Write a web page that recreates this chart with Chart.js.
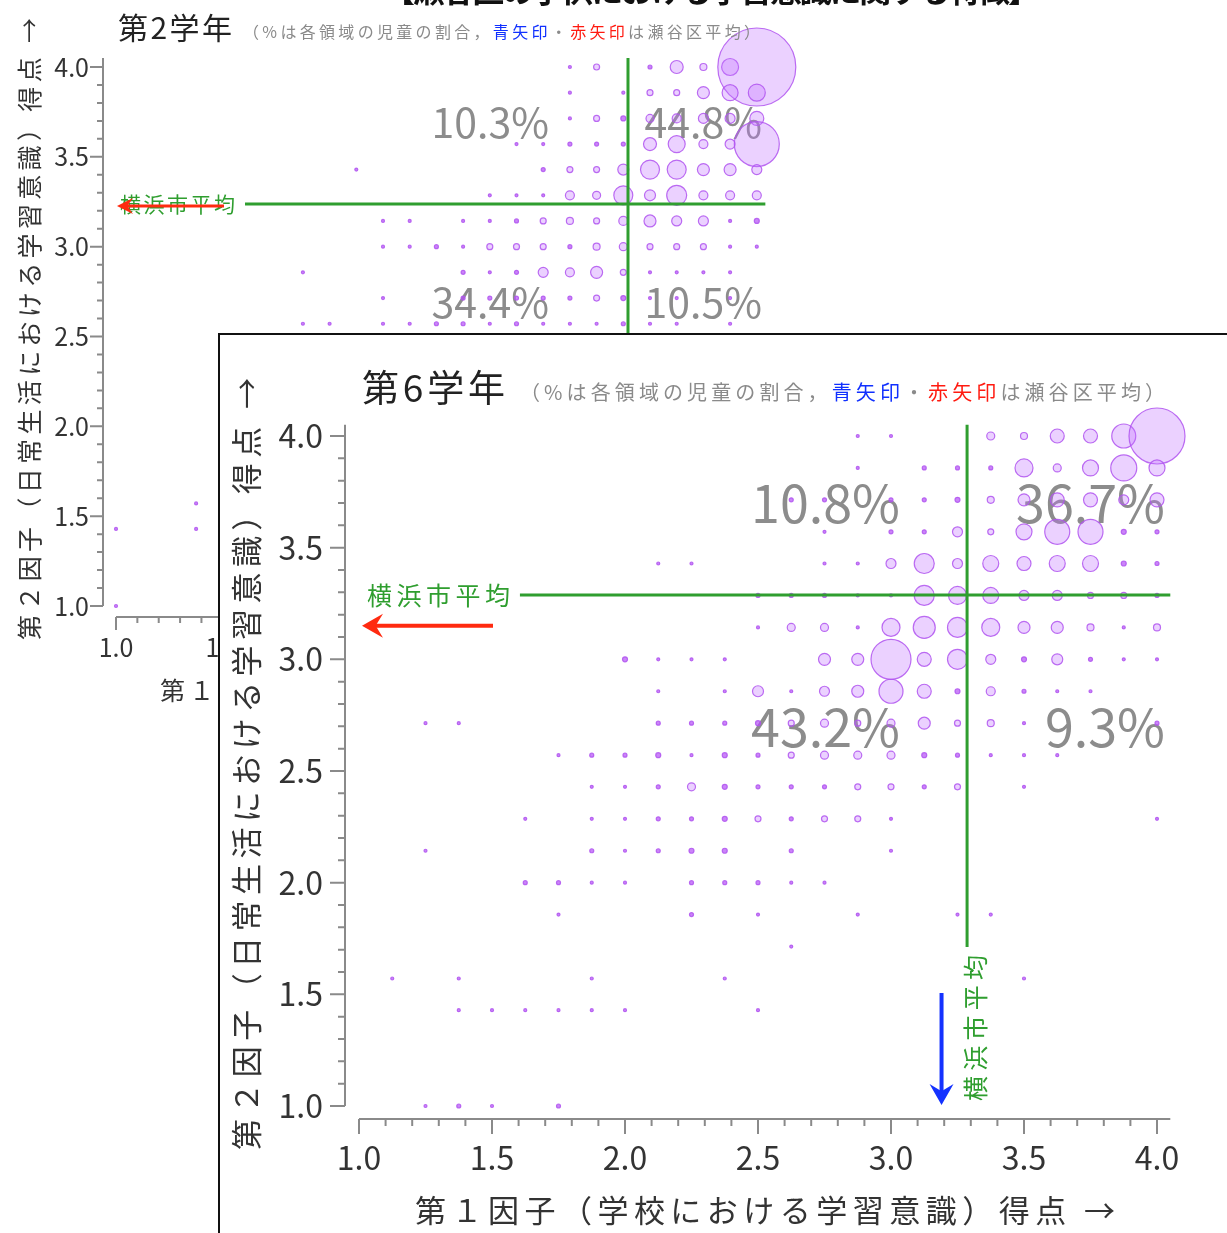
<!DOCTYPE html>
<html lang="ja">
<head>
<meta charset="utf-8">
<script src="https://cdn.jsdelivr.net/npm/chart.js@4.4.0/dist/chart.umd.min.js"></script>
<style>
  html, body { margin: 0; padding: 0; background: #fff; overflow: hidden; width: 1227px; height: 1233px; }
  #wrap { position: relative; width: 1227px; height: 1233px; overflow: hidden; }
  #wrap canvas { position: absolute; left: 0; top: 0; }
  #box { position: absolute; left: 218px; top: 333px; width: 1100px; height: 1000px; background: #fff; border: 2px solid #111; box-sizing: border-box; }
</style>
</head>
<body>
<div id="wrap">
  <canvas id="grade2Chart" width="1227" height="1233"></canvas>
  <div id="box"></div>
  <canvas id="grade6Chart" width="1227" height="1233"></canvas>
</div>
<script>
// score grid (factor 1: 8 items -> 1/8 steps, factor 2: 7 items -> 1/7 steps)
const factor1Scores = [1.000, 1.125, 1.250, 1.375, 1.500, 1.625, 1.750, 1.875, 2.000, 2.125, 2.250, 2.375, 2.500,
  2.625, 2.750, 2.875, 3.000, 3.125, 3.250, 3.375, 3.500, 3.625, 3.750, 3.875, 4.000];
const factor2Scores = [4.000, 3.857, 3.714, 3.571, 3.429, 3.286, 3.143, 3.000, 2.857, 2.714, 2.571,
  2.429, 2.286, 2.143, 2.000, 1.857, 1.714, 1.571, 1.429, 1.286, 1.143, 1.000];

const axisTicks = ['1.0', '1.5', '2.0', '2.5', '3.0', '3.5', '4.0'];

// bubble radius per cell, rows = factor2Scores, cols = factor1Scores (grade 6)
const bubbles6 = [
  [0,0,0,0,0, 0,0,0,0,0, 0,0,0,0,0, 1.5,1.5,0,0,4, 3.5,7,7,12,28],
  [0,0,0,0,0, 0,0,0,0,0, 0,0,0,0,0, 1.5,0,2,2,2, 9,4,8,13,8],
  [0,0,0,0,0, 0,0,0,0,0, 0,0,0,2,2, 0,2,2,2.5,3.5, 6,7,7,5,7],
  [0,0,0,0,0, 0,0,0,0,0, 0,0,0,0,1.5, 0,2,2,5,3, 8,12.5,12.5,2.5,2],
  [0,0,0,0,0, 0,0,0,0,1.5, 1.5,0,0,0,1.5, 1.5,5,10,5,8, 7,8,8,2.5,2],
  [0,0,0,0,0, 0,0,0,0,0, 0,0,2,2,2, 1.5,1.5,10,9,8, 5,5,3,3,2],
  [0,0,0,0,0, 0,0,0,0,0, 0,0,1.5,4,4, 1.5,9,11,10,9, 6,6,3.5,1.5,3.5],
  [0,0,0,0,0, 0,0,0,2.5,1.5, 1.5,1.5,0,0,6, 6,20,7,10,5, 2.5,5.5,2,1.5,1.5],
  [0,0,0,0,0, 0,0,0,0,1.5, 0,1.5,5.5,1.5,5, 6,12,7,2.5,4.5, 2,1.5,1.5,0,0],
  [0,0,1.5,1.5,0, 0,0,0,0,2, 2,2,2.5,3,4, 3,4,6,3,3.5, 1.5,0,0,0,2],
  [0,0,0,0,0, 0,1.5,2,2,2.5, 1.5,2.5,2,3,4, 4,4,2.5,2,1.5, 1.5,1.5,0,0,0],
  [0,0,0,0,0, 0,0,1.5,1.5,2, 4,2.5,2,2,2, 3,3,2,3,0, 1.5,0,0,0,0],
  [0,0,0,0,0, 1.5,0,1.5,1.5,2, 2,2.5,3,2,3, 3,1.5,0,0,0, 0,0,0,0,1.5],
  [0,0,1.5,0,0, 0,0,2,1.5,2, 2.5,2.5,0,2,0, 0,1.5,0,0,0, 0,0,0,0,0],
  [0,0,0,0,0, 2,2,1.5,1.5,0, 2,2,2,1.5,1.5, 0,0,0,0,0, 0,0,0,0,0],
  [0,0,0,0,0, 0,1.5,0,0,0, 2,0,1.5,0,0, 1.5,0,0,1.5,1.5, 0,0,0,0,0],
  [0,0,0,0,0, 0,0,0,0,0, 0,0,0,1.5,0, 0,0,0,0,0, 0,0,0,0,0],
  [0,1.5,0,1.5,0, 0,0,1.5,0,0, 0,1.5,0,0,0, 0,0,0,0,0, 1.5,0,0,0,0],
  [0,0,0,1.5,1.5, 1.5,1.5,1.5,1.5,0, 0,0,1.5,0,0, 0,0,0,0,0, 0,0,0,0,0],
  [0,0,0,0,0, 0,0,0,0,0, 0,0,0,0,0, 0,0,0,0,0, 0,0,0,0,0],
  [0,0,0,0,0, 0,0,0,0,0, 0,0,0,0,0, 0,0,0,0,0, 0,0,0,0,0],
  [0,0,1.5,2,1.5, 0,2,0,0,0, 0,0,0,0,0, 0,0,0,0,0, 0,0,0,0,0]
];

// grade 2 (only the part that is not covered by the grade 6 panel)
const bubbles2 = [
  [0,0,0,0,0, 0,0,0,0,0, 0,0,0,0,0, 0,0,1.5,3,0, 2,6.5,3.5,8.5,39],
  [0,0,0,0,0, 0,0,0,0,0, 0,0,0,0,0, 0,0,1.5,0,1.5, 3,3,6,8,8.5],
  [0,0,0,0,0, 0,0,0,0,0, 0,0,0,0,0, 0,0,1.5,3,2.5, 4,4.5,5,5,7],
  [0,0,0,0,0, 0,0,0,0,0, 0,0,0,0,0, 1.5,1.5,2,2,2, 6.5,8.5,4.5,5,22.5],
  [0,0,0,0,0, 0,0,0,0,1.5, 0,0,0,0,0, 0,2,3,3,5.5, 9.5,9.5,6,6,5],
  [0,0,0,0,0, 0,0,0,0,0, 0,0,0,0,1.5, 1.5,1.5,4.5,4,9.5, 5.5,10,4.5,4.5,4.5],
  [0,0,0,0,0, 0,0,0,0,0, 1.5,1.5,0,1.5,1.5, 2,3,3.5,3,4.5, 6,5,5,1.5,2.5],
  [0,0,0,0,0, 0,0,0,0,0, 1.5,1.5,2,1.5,3, 3,3,2,3.5,4, 3,3,3,1.5,1.5],
  [0,0,0,0,0, 0,0,1.5,0,0, 0,0,0,2,1.5, 2,5,4.5,6,3, 1.5,1.5,1.5,1.5,0],
  [0,0,0,0,0, 0,0,0,0,0, 1.5,0,0,2,2, 2,2,2,3,2.5, 1.5,1.5,0,1.5,0],
  [0,0,0,0,0, 0,0,1.5,1.5,0, 1.5,1.5,2,2,1.5, 2,1.5,1.5,1.5,2, 1.5,1.5,0,1.5,0],
  [0,0,0,0,0, 0,0,0,0,0, 0,0,0,0,0, 0,0,0,0,0, 0,0,0,0,0],
  [0,0,0,0,0, 0,0,0,0,0, 0,0,0,0,0, 0,0,0,0,0, 0,0,0,0,0],
  [0,0,0,0,0, 0,0,0,0,0, 0,0,0,0,0, 0,0,0,0,0, 0,0,0,0,0],
  [0,0,0,0,0, 0,0,0,0,0, 0,0,0,0,0, 0,0,0,0,0, 0,0,0,0,0],
  [0,0,0,0,0, 0,0,0,0,0, 0,0,0,0,0, 0,0,0,0,0, 0,0,0,0,0],
  [0,0,0,0,0, 0,0,0,0,0, 0,0,0,0,0, 0,0,0,0,0, 0,0,0,0,0],
  [0,0,0,1.5,0, 0,0,0,0,0, 0,0,0,0,0, 0,0,0,0,0, 0,0,0,0,0],
  [1.5,0,0,1.5,0, 0,0,0,0,0, 0,0,0,0,0, 0,0,0,0,0, 0,0,0,0,0],
  [0,0,0,0,0, 0,0,0,0,0, 0,0,0,0,0, 0,0,0,0,0, 0,0,0,0,0],
  [0,0,0,0,0, 0,0,0,0,0, 0,0,0,0,0, 0,0,0,0,0, 0,0,0,0,0],
  [1.5,0,0,0,0, 0,0,0,0,0, 0,0,0,0,0, 0,0,0,0,0, 0,0,0,0,0]
];

// quadrant shares: upper-left, upper-right, lower-left, lower-right
const shares6 = [10.8, 36.7, 43.2, 9.3];
const shares2 = [10.3, 44.8, 34.4, 10.5];

// [factor1, factor2] averages
const cityAvg6 = [3.286, 3.288];
const wardAvg6 = [3.19, 3.15];
const cityAvg2 = [3.397, 3.237];
const wardAvg2 = [null, 3.226];

const JP = '"Noto Sans CJK JP", "Noto Sans", sans-serif';
const GREEN = '#2f9e2f';

function toBubbles(sizes) {
  const pts = [];
  sizes.forEach((row, j) => {
    row.forEach((r, k) => {
      if (r > 0) pts.push({ x: factor1Scores[k], y: factor2Scores[j], r: r });
    });
  });
  return pts;
}

function fitText(ctx, text, x, y, width) {
  ctx.letterSpacing = '0px';
  const n = Array.from(text).length;
  const w0 = ctx.measureText(text).width;
  const sp = n > 1 ? (width - w0) / (n - 1) : 0;
  ctx.letterSpacing = sp.toFixed(2) + 'px';
  ctx.textAlign = 'left';
  ctx.fillText(text, x, y);
  ctx.letterSpacing = '0px';
}

function fitTextUp(ctx, text, cx, y0, len) {
  ctx.save();
  ctx.translate(cx, y0);
  ctx.rotate(-Math.PI / 2);
  ctx.textBaseline = 'middle';
  fitText(ctx, text, 0, 0, len);
  ctx.restore();
}

function fitParts(ctx, parts, x, y, width) {
  ctx.letterSpacing = '0px';
  const all = parts.map(p => p[0]).join('');
  const n = Array.from(all).length;
  const sp = (width - ctx.measureText(all).width) / (n - 1);
  let cx = x;
  ctx.textAlign = 'left';
  parts.forEach(([t, c]) => {
    ctx.letterSpacing = '0px';
    const w = ctx.measureText(t).width;
    ctx.fillStyle = c;
    ctx.letterSpacing = sp.toFixed(2) + 'px';
    ctx.fillText(t, cx, y);
    cx += w + sp * Array.from(t).length;
  });
  ctx.letterSpacing = '0px';
}

function arrow(ctx, x1, y1, x2, y2, color, w, headLen, headW) {
  const a = Math.atan2(y2 - y1, x2 - x1);
  const c = Math.cos(a), s = Math.sin(a);
  ctx.strokeStyle = color;
  ctx.fillStyle = color;
  ctx.lineWidth = w;
  ctx.beginPath();
  ctx.moveTo(x1, y1);
  ctx.lineTo(x2 - c * headLen * 0.6, y2 - s * headLen * 0.6);
  ctx.stroke();
  ctx.beginPath();
  ctx.moveTo(x2, y2);
  ctx.lineTo(x2 - c * headLen - s * headW, y2 - s * headLen + c * headW);
  ctx.lineTo(x2 - c * headLen * 0.65, y2 - s * headLen * 0.65);
  ctx.lineTo(x2 - c * headLen + s * headW, y2 - s * headLen - c * headW);
  ctx.closePath();
  ctx.fill();
}

const decorPlugin = {
  id: 'decor',
  beforeDatasetsDraw(chart, args, o) {
    const ctx = chart.ctx;
    ctx.save();
    ctx.font = `${o.pctFont}px ${JP}`;
    ctx.fillStyle = '#8c8c8c';
    ctx.textAlign = 'right';
    ctx.textBaseline = 'middle';
    o.shares.forEach((v, i) => {
      ctx.fillText(v.toFixed(1) + '%', o.pctRight[i % 2], o.pctMid[i < 2 ? 0 : 1]);
    });
    ctx.restore();
  },
  afterDatasetsDraw(chart, args, o) {
    const ctx = chart.ctx;
    const xs = chart.scales.x, ys = chart.scales.y;
    ctx.save();

    // city average lines
    ctx.strokeStyle = GREEN;
    ctx.lineWidth = 3;
    const cy = ys.getPixelForValue(o.city[1]);
    const cx = xs.getPixelForValue(o.city[0]);
    ctx.beginPath();
    ctx.moveTo(xs.getPixelForValue(o.hLine[0]), cy);
    ctx.lineTo(xs.getPixelForValue(o.hLine[1]), cy);
    ctx.moveTo(cx, ys.getPixelForValue(o.vLine[0]));
    ctx.lineTo(cx, ys.getPixelForValue(o.vLine[1]));
    ctx.stroke();

    ctx.fillStyle = GREEN;
    ctx.font = `${o.cityFont}px ${JP}`;
    ctx.textBaseline = 'middle';
    fitText(ctx, '横浜市平均', o.cityLabel[0], cy, o.cityLabel[1]);
    if (o.cityLabelV) {
      fitTextUp(ctx, '横浜市平均', cx + o.cityLabelV[0], o.cityLabelV[1], o.cityLabelV[2]);
    }

    // ward average arrows
    if (o.ward[1] !== null) {
      const wy = ys.getPixelForValue(o.ward[1]);
      arrow(ctx, o.redArrow[0], wy, xs.getPixelForValue(1) + o.redArrow[1], wy, '#ff2a10', o.arrowW, o.headLen, o.headW);
    }
    if (o.ward[0] !== null && o.blueArrow) {
      const wx = xs.getPixelForValue(o.ward[0]);
      arrow(ctx, wx, o.blueArrow[0], wx, o.blueArrow[1], '#1432ff', o.arrowW, o.headLen, o.headW);
    }

    // axes
    const ax = o.axis;
    ctx.strokeStyle = '#8a8a8a';
    ctx.lineWidth = 2;
    ctx.beginPath();
    ctx.moveTo(ax.yX, ys.getPixelForValue(ax.top));
    ctx.lineTo(ax.yX, ys.getPixelForValue(1));
    ctx.moveTo(xs.getPixelForValue(1), ax.xY);
    ctx.lineTo(xs.getPixelForValue(ax.right), ax.xY);
    for (let v = 10; v <= 40; v++) {
      const len = v % 5 === 0 ? ax.major : ax.minor;
      const py = ys.getPixelForValue(v / 10);
      const px = xs.getPixelForValue(v / 10);
      ctx.moveTo(ax.yX - len, py);
      ctx.lineTo(ax.yX, py);
      ctx.moveTo(px, ax.xY);
      ctx.lineTo(px, ax.xY + len);
    }
    ctx.stroke();

    ctx.fillStyle = '#333';
    ctx.font = `${o.tickFont}px ${JP}`;
    ctx.textBaseline = 'middle';
    axisTicks.forEach(t => {
      const v = parseFloat(t);
      ctx.textAlign = 'right';
      ctx.fillText(t, o.yLabelRight, ys.getPixelForValue(v));
      ctx.textAlign = 'center';
      ctx.fillText(t, xs.getPixelForValue(v), o.xLabelY);
    });

    // axis titles
    ctx.fillStyle = '#333';
    ctx.font = `${o.axisTitle.font}px ${JP}`;
    ctx.textBaseline = 'middle';
    fitTextUp(ctx, '第２因子（日常生活における学習意識）得点 →', o.axisTitle.yX, o.axisTitle.y0, o.axisTitle.yLen);
    fitText(ctx, '第１因子（学校における学習意識）得点 →', o.axisTitle.x0, o.axisTitle.xY, o.axisTitle.xLen);

    // panel title
    ctx.fillStyle = '#222';
    ctx.font = `${o.title.font}px ${JP}`;
    fitText(ctx, o.title.text, o.title.x, o.title.y, o.title.w);
    ctx.font = `${o.sub.font}px ${JP}`;
    fitParts(ctx, [
      ['（%は各領域の児童の割合，', '#8a8a8a'],
      ['青矢印', '#1030ff'],
      ['・', '#8a8a8a'],
      ['赤矢印', '#ff1a10'],
      ['は瀬谷区平均）', '#8a8a8a']
    ], o.sub.x, o.sub.y, o.sub.w);

    if (o.headline) {
      ctx.fillStyle = '#111';
      ctx.font = `bold ${o.headline.font}px ${JP}`;
      ctx.textBaseline = 'alphabetic';
      fitText(ctx, o.headline.text, o.headline.x, o.headline.y, o.headline.w);
    }
    ctx.restore();
  }
};

function makeChart(id, sizes, padding, decor) {
  return new Chart(document.getElementById(id), {
    type: 'bubble',
    data: {
      datasets: [{
        data: toBubbles(sizes),
        // the smallest marks are drawn as solid dots
        backgroundColor: c => (c.raw && c.raw.r <= 2.5) ? 'rgba(180, 80, 245, 0.7)' : 'rgba(192, 112, 255, 0.32)',
        borderColor: 'rgba(176, 84, 240, 0.85)',
        borderWidth: 1.2,
        clip: false
      }]
    },
    options: {
      responsive: false,
      animation: false,
      events: [],
      layout: { padding: padding },
      scales: {
        x: { type: 'linear', min: 1, max: 4, display: false },
        y: { type: 'linear', min: 1, max: 4, display: false }
      },
      plugins: {
        legend: { display: false },
        tooltip: { enabled: false },
        decor: decor
      }
    },
    plugins: [decorPlugin]
  });
}

makeChart('grade2Chart', bubbles2, { left: 116, right: 470.2, top: 67, bottom: 627 }, {
  shares: shares2, pctFont: 41, pctRight: [549, 762], pctMid: [122, 302],
  city: cityAvg2, hLine: [1.604, 4.04], vLine: [4.05, 2.4],
  cityFont: 21, cityLabel: [120, 115], cityLabelV: null,
  ward: wardAvg2, redArrow: [224, 1], blueArrow: null, arrowW: 3, headLen: 16, headW: 8,
  axis: { yX: 103, xY: 617, top: 4.05, right: 4.05, major: 13, minor: 6 },
  tickFont: 25, yLabelRight: 89, xLabelY: 647,
  axisTitle: { font: 25, yX: 29, y0: 640, yLen: 622, x0: 160, xY: 690, xLen: 560 },
  title: { text: '第2学年', font: 30, x: 118, y: 28, w: 114 },
  sub: { font: 16, x: 243, y: 32, w: 517 },
  headline: { text: '【瀬谷区の子供における学習意識に関する特徴】', font: 32, x: 383, y: 2, w: 657 }
});

makeChart('grade6Chart', bubbles6, { left: 359, right: 70, top: 436, bottom: 127 }, {
  shares: shares6, pctFont: 52, pctRight: [900, 1165], pctMid: [503, 727],
  city: cityAvg6, hLine: [1.605, 4.05], vLine: [4.05, 1.712],
  cityFont: 25, cityLabel: [367, 143], cityLabelV: [8, 1101, 146],
  ward: wardAvg6, redArrow: [493, 3], blueArrow: [993, 1105], arrowW: 4, headLen: 21, headW: 12,
  axis: { yX: 345, xY: 1119, top: 4.05, right: 4.05, major: 15, minor: 7 },
  tickFont: 32, yLabelRight: 323, xLabelY: 1158,
  axisTitle: { font: 31, yX: 246, y0: 1150, yLen: 772, x0: 415, xY: 1210, xLen: 700 },
  title: { text: '第6学年', font: 37, x: 362, y: 388, w: 143 },
  sub: { font: 20, x: 520, y: 392, w: 645 },
  headline: null
});
</script>
</body>
</html>
